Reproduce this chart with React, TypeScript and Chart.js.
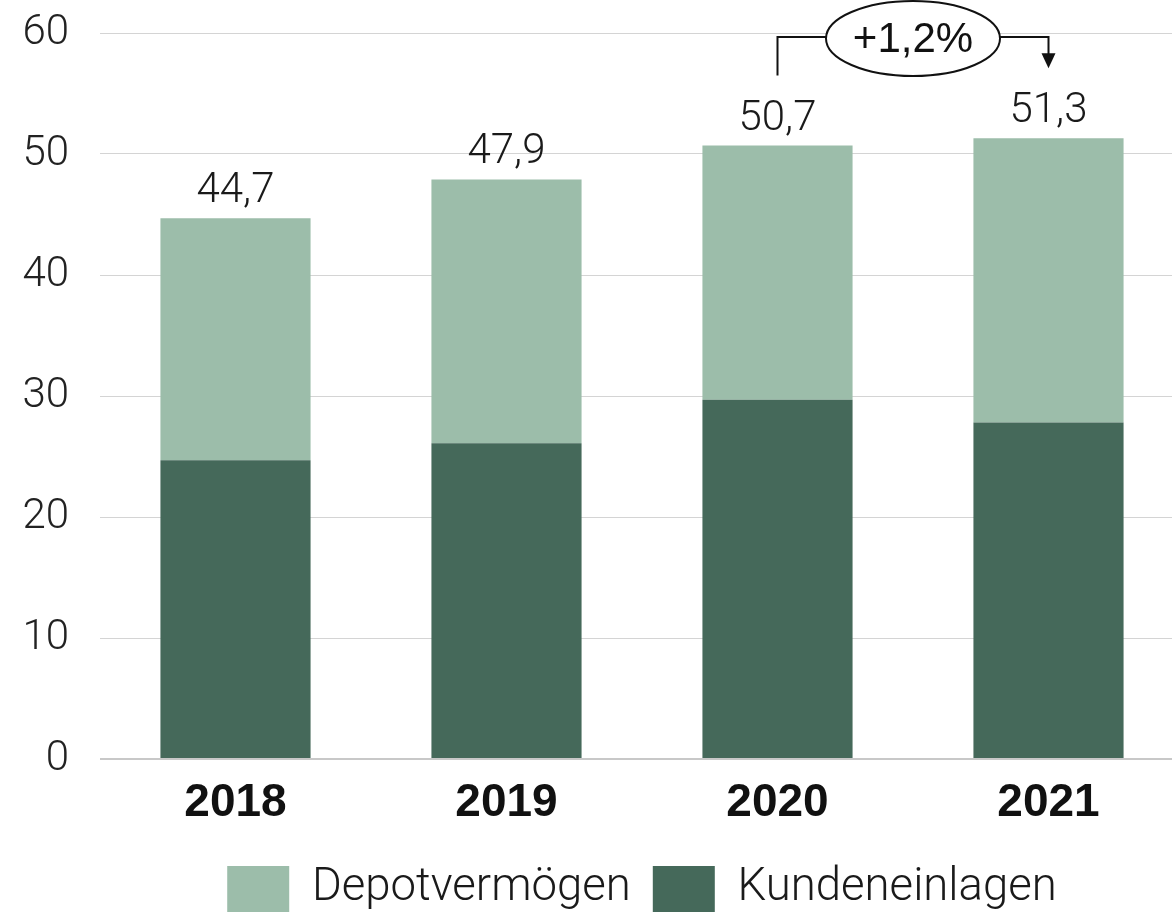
import React, { useEffect, useRef } from "react";
import { Chart, registerables } from "chart.js";

Chart.register(...registerables);

const categories = ["2018", "2019", "2020", "2021"];
const kundeneinlagen = [24.7, 26.1, 29.7, 27.8];
const depotvermoegen = [20.0, 21.8, 21.0, 23.5];
const seriesNames = ["Kundeneinlagen", "Depotvermögen"];
const seriesColors = ["#45695A", "#9CBDAA"];
const yMin = 0;
const yMax = 60;
const yStep = 10;
const growthFromIndex = 2;
const growthToIndex = 3;

const LIGHT = "Roboto, 'Liberation Sans', sans-serif";
const BOLD = "'Liberation Sans', Arial, sans-serif";

function fmt(v: number, digits = 1) {
  return v.toFixed(digits).replace(".", ",");
}

const totalsPlugin = {
  id: "totals",
  afterDatasetsDraw(chart: any) {
    const ctx = chart.ctx;
    const top = chart.getDatasetMeta(1);
    ctx.save();
    ctx.font = `300 42px ${LIGHT}`;
    ctx.fillStyle = "#1a1a1a";
    ctx.textAlign = "center";
    ctx.textBaseline = "alphabetic";
    categories.forEach((_, i) => {
      const el = top.data[i];
      const total = kundeneinlagen[i] + depotvermoegen[i];
      ctx.fillText(fmt(total), el.x, el.y - 16);
    });
    ctx.restore();
  },
};

const growthPlugin = {
  id: "growth",
  afterDatasetsDraw(chart: any) {
    const ctx = chart.ctx;
    const meta = chart.getDatasetMeta(1);
    const a = meta.data[growthFromIndex];
    const b = meta.data[growthToIndex];
    const t0 = kundeneinlagen[growthFromIndex] + depotvermoegen[growthFromIndex];
    const t1 = kundeneinlagen[growthToIndex] + depotvermoegen[growthToIndex];
    const pct = (t1 / t0 - 1) * 100;
    const label = (pct >= 0 ? "+" : "") + fmt(pct) + "%";
    const lineY = chart.chartArea.top + 4;
    const cx = (a.x + b.x) / 2;
    const cy = chart.chartArea.top + 5.5;
    ctx.save();
    ctx.strokeStyle = "#111";
    ctx.lineWidth = 2;
    ctx.beginPath();
    ctx.moveTo(a.x, a.y - 70);
    ctx.lineTo(a.x, lineY);
    ctx.lineTo(b.x, lineY);
    ctx.lineTo(b.x, b.y - 84);
    ctx.stroke();
    // arrow head
    ctx.fillStyle = "#111";
    ctx.beginPath();
    ctx.moveTo(b.x - 7, b.y - 85);
    ctx.lineTo(b.x + 7, b.y - 85);
    ctx.lineTo(b.x, b.y - 70);
    ctx.closePath();
    ctx.fill();
    // ellipse
    ctx.beginPath();
    ctx.ellipse(cx, cy, 87, 37.5, 0, 0, Math.PI * 2);
    ctx.fillStyle = "#ffffff";
    ctx.fill();
    ctx.stroke();
    ctx.fillStyle = "#111";
    ctx.font = `400 42px ${BOLD}`;
    ctx.textAlign = "center";
    ctx.textBaseline = "middle";
    ctx.fillText(label, cx, cy + 2);
    ctx.restore();
  },
};

export default function App() {
  const ref = useRef<HTMLCanvasElement | null>(null);
  useEffect(() => {
    if (!ref.current) return;
    const chart = new Chart(ref.current, {
      type: "bar",
      data: {
        labels: categories,
        datasets: [
          {
            label: seriesNames[0],
            data: kundeneinlagen,
            backgroundColor: seriesColors[0],
            borderWidth: 0,
          },
          {
            label: seriesNames[1],
            data: depotvermoegen,
            backgroundColor: seriesColors[1],
            borderWidth: 0,
          },
        ],
      },
      options: {
        animation: false,
        responsive: false,
        maintainAspectRatio: false,
        layout: { padding: { top: 33, left: 0, right: 0, bottom: -6 } },
        datasets: {
          bar: { categoryPercentage: 1, barPercentage: 0.554 },
        },
        scales: {
          x: {
            stacked: true,
            grid: { display: false, drawTicks: false },
            border: { display: false },
            afterFit: (scale: any) => {
              scale.height = 85;
            },
            ticks: {
              color: "#111",
              padding: 17,
              font: { family: BOLD, size: 46, weight: "bold" },
            },
          },
          y: {
            stacked: true,
            min: yMin,
            max: yMax,
            afterFit: (scale: any) => {
              scale.width = 100;
            },
            ticks: {
              stepSize: yStep,
              color: "#222",
              padding: 0,
              font: { family: LIGHT, size: 42, weight: "300" },
              callback: (v: any) => String(v),
            },
            grid: {
              drawTicks: true,
              tickLength: 31,
              tickColor: "rgba(0,0,0,0)",
              color: (c: any) => (c.tick && c.tick.value === 0 ? "#c8c8c8" : "#d4d4d4"),
              lineWidth: (c: any) => (c.tick && c.tick.value === 0 ? 2 : 1),
            },
            border: { display: false },
          },
        },
        plugins: {
          tooltip: { enabled: false },
          legend: {
            position: "bottom",
            reverse: true,
            fullSize: false,
            labels: {
              boxWidth: 62,
              boxHeight: 46,
              padding: 22,
              color: "#1a1a1a",
              font: { family: LIGHT, size: 45.5, weight: "300" },
            },
          },
        },
      },
      plugins: [totalsPlugin, growthPlugin],
    });
    return () => chart.destroy();
  }, []);
  return (
    <div
      style={{
        position: "fixed",
        top: 0,
        left: 0,
        width: 1172,
        height: 916,
        overflow: "hidden",
        background: "#fff",
      }}
    >
      <canvas ref={ref} width={1184} height={916} style={{ width: 1184, height: 916, display: "block" }} />
    </div>
  );
}
